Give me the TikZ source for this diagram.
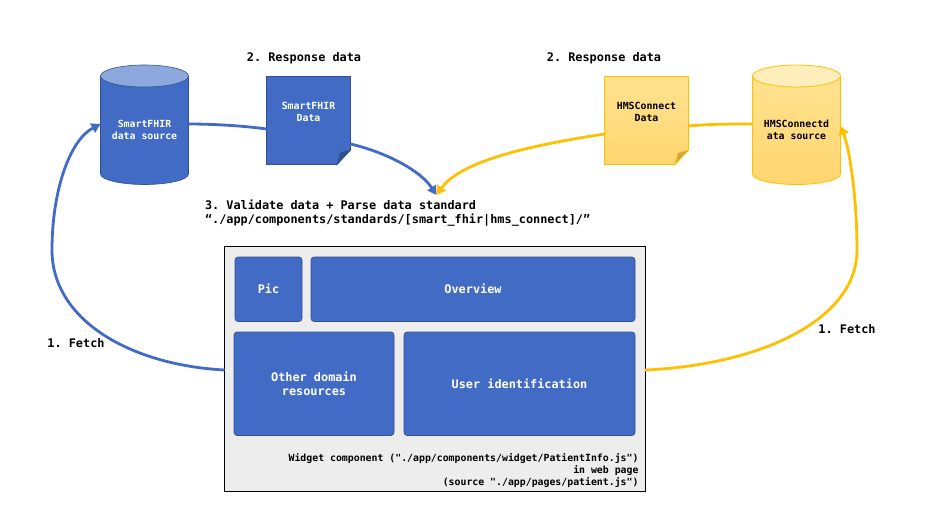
\documentclass[tikz,border=0pt]{standalone}
\usepackage{fontspec}
\setmonofont{DejaVu Sans Mono}
\usetikzlibrary{arrows.meta,calc}
\definecolor{bluefill}{HTML}{426BC5}
\definecolor{blueedge}{HTML}{2F528F}
\definecolor{bluetop}{HTML}{8CA8DC}
\definecolor{bluefold}{HTML}{2F528F}
\definecolor{yellowline}{HTML}{FFC000}
\definecolor{yellowa}{HTML}{FFE28F}
\definecolor{yellowb}{HTML}{FFD670}
\definecolor{yellowtop}{HTML}{FFEDBB}
\definecolor{yellowfold}{HTML}{CCA64F}
\definecolor{panel}{HTML}{EDEDED}
\tikzset{
  x=1pt,y=-1pt,
  every node/.style={inner sep=0pt,outer sep=0pt},
  lbl/.style={font=\ttfamily\bfseries\fontsize{11.85}{14}\selectfont,text=black,align=left},
  small/.style={font=\ttfamily\bfseries\fontsize{9.85}{12}\selectfont,align=center},
  darktext/.style={small,text=white},
  blocktext/.style={draw=blueedge,line width=.6pt,fill=bluefill,rounded corners=3pt,text=white,align=center,font=\ttfamily\bfseries\fontsize{11.85}{14}\selectfont},
  link/.style={line width=2.8pt,-{Triangle[length=9pt,width=10pt]}},
  flatlink/.style={line width=2.8pt},
  bluelink/.style={draw=bluefill},
  yellowlink/.style={draw=yellowline},
  yellowshade/.style={top color=yellowa,bottom color=yellowb}
}
\begin{document}
\begin{tikzpicture}
\useasboundingbox[fill=white] (0,0) rectangle (937,508);
% cylinder shapes
\path[fill=bluefill,draw=blueedge,line width=.6pt] (100.5,76) -- (100.5,174) arc[start angle=180,end angle=360,x radius=44,y radius=-10.5] -- (188.5,76) -- cycle;
\path[fill=bluetop,draw=blueedge,line width=.6pt] (144.5,76) ellipse[x radius=44,y radius=11];
\path[yellowshade,draw=yellowline,line width=.8pt] (752.5,76) -- (752.5,174) arc[start angle=180,end angle=360,x radius=44,y radius=-10.5] -- (840.5,76) -- cycle;
\path[fill=yellowtop,draw=yellowline,line width=.8pt] (796.5,76) ellipse[x radius=44,y radius=11];
% note shapes
\path[fill=bluefill,draw=blueedge,line width=.6pt] (266.5,76.5) -- (350.5,76.5) -- (350.5,150) -- (337,164.5) -- (266.5,164.5) -- cycle;
\path[fill=bluefold,draw=blueedge,line width=.6pt] (350.5,150) -- (337,164.5) -- (340,153) -- cycle;
\path[yellowshade,draw=yellowline,line width=.8pt] (604.5,76.5) -- (688.5,76.5) -- (688.5,150) -- (675,164.5) -- (604.5,164.5) -- cycle;
\path[fill=yellowfold,draw=yellowline,line width=.6pt] (688.5,150) -- (675,164.5) -- (678,153) -- cycle;
% nodes
\node[minimum width=88pt,minimum height=109pt,darktext] (cylblue) at (144.5,129.5) {SmartFHIR\\data source};
\node[minimum width=84pt,minimum height=71pt,darktext] (docblue) at (308.5,112) {SmartFHIR\\Data};
\node[minimum width=84pt,minimum height=71pt,small,text=black] (docyellow) at (646.5,112) {HMSConnect\\Data};
\node[minimum width=88pt,minimum height=109pt,small,text=black] (cylyellow) at (796.5,129.5) {HMSConnectd\\ata source};
\node[lbl,anchor=center] (respa) at (304,58) {2. Response data};
\node[lbl,anchor=center] (respb) at (604,58) {2. Response data};
\node[lbl,anchor=north west] (validate) at (205,200) {3. Validate data + Parse data standard\\“./app/components/standards/[smart\_fhir|hms\_connect]/”};
\node[lbl,anchor=center] (fetcha) at (76,343) {1. Fetch};
\node[lbl,anchor=center] (fetchb) at (847,329) {1. Fetch};
\node[draw=black,line width=.8pt,fill=panel,minimum width=420.5pt,minimum height=244.5pt] (widget) at (434.75,368.75) {};
\node[blocktext,minimum width=67pt,minimum height=64.5pt] (pic) at (268.5,289.25) {Pic};
\node[blocktext,minimum width=324pt,minimum height=64.5pt] (overview) at (473,289.25) {Overview};
\node[blocktext,minimum width=160pt,minimum height=103.5pt] (other) at (314,383.75) {Other domain\\resources};
\node[blocktext,minimum width=231pt,minimum height=103.5pt] (user) at (519.5,383.75) {User identification};
\node[small,align=right,anchor=north east,text=black] (caption) at (638.5,453.5) {Widget component ("./app/components/widget/PatientInfo.js")\\in web page\\(source "./app/pages/patient.js")};
\coordinate (merge) at (436.5,195);
\coordinate (bend) at (52,250);
\coordinate (bendr) at (857,250);
% connectors
\draw[flatlink,bluelink] ([yshift=5.5pt]cylblue.east) .. controls (215,124) and (245,126) .. ([yshift=-17pt]docblue.west);
\draw[link,bluelink] ([yshift=-32pt]docblue.east) .. controls (385,152) and (420,170) .. (merge);
\draw[flatlink,yellowlink] ([yshift=5.5pt]cylyellow.west) .. controls (730,124) and (710,124) .. ([yshift=-14pt]docyellow.east);
\draw[link,yellowlink] ([yshift=-22pt]docyellow.west) .. controls (525,146) and (460,162) .. (merge);
\draw[link,bluelink] (widget.west |- 0,370) .. controls (130,365) and (52,320) .. (bend) .. controls (52,190) and (70,140) .. ([yshift=5.5pt]cylblue.west);
\draw[link,yellowlink] (widget.east |- 0,370) .. controls (760,365) and (857,320) .. (bendr) .. controls (857,200) and (850,150) .. ([yshift=3.5pt]cylyellow.east);
\end{tikzpicture}
\end{document}
